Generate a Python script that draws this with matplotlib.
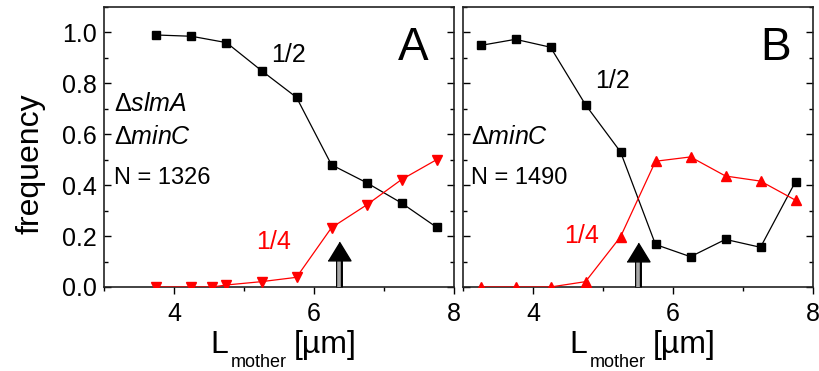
import numpy as np
import matplotlib
matplotlib.use("Agg")
import matplotlib.pyplot as plt
from matplotlib.ticker import MultipleLocator, FormatStrFormatter

plt.rcParams['font.family'] = ['Liberation Sans', 'DejaVu Sans']
plt.rcParams['mathtext.fontset'] = 'custom'
plt.rcParams['mathtext.rm'] = 'Liberation Sans'
plt.rcParams['mathtext.it'] = 'Liberation Sans:italic'
plt.rcParams['mathtext.default'] = 'regular'

# panel A: delta slmA delta minC
a_half_x = [3.75, 4.25, 4.75, 5.25, 5.75, 6.25, 6.75, 7.25, 7.75]
a_half_y = [0.99, 0.985, 0.96, 0.85, 0.745, 0.48, 0.41, 0.33, 0.235]
a_quarter_x = [3.75, 4.25, 4.55, 4.75, 5.25, 5.75, 6.25, 6.75, 7.25, 7.75]
a_quarter_y = [0.0, 0.0, 0.0, 0.008, 0.021, 0.038, 0.233, 0.322, 0.422, 0.50]
a_arrow = (6.35, 0.178)

# panel B: delta minC
b_half_x = [3.25, 3.75, 4.25, 4.75, 5.25, 5.75, 6.25, 6.75, 7.25, 7.75]
b_half_y = [0.949, 0.973, 0.942, 0.716, 0.531, 0.167, 0.119, 0.187, 0.156, 0.414]
b_quarter_x = [3.25, 3.75, 4.25, 4.75, 5.25, 5.75, 6.25, 6.75, 7.25, 7.75]
b_quarter_y = [0.0, 0.0, 0.0, 0.021, 0.197, 0.494, 0.511, 0.436, 0.416, 0.341]
b_arrow = (5.5, 0.172)

fig = plt.figure(figsize=(8.19, 3.71), dpi=100)
axA = fig.add_axes([104/819, 84/371, 350/819, 280/371])
axB = fig.add_axes([463/819, 84/371, 350/819, 280/371])

head = [(-1.1, -0.9), (1.1, -0.9), (0, 0.9)]


def draw_arrow(ax, x, tip):
    # shaft: black outline with grey core, head: black triangle
    base = tip - 18/254.5
    ax.plot([x, x], [0, base], color='black', lw=5.0, solid_capstyle='butt', zorder=4, clip_on=False)
    ax.plot([x, x], [0, base], color='#a8a8a8', lw=2.6, solid_capstyle='butt', zorder=5, clip_on=False)
    ax.plot([x], [(tip + base)/2], marker=head, ms=16.5, color='black', zorder=6, clip_on=False)


def style(ax, show_y):
    ax.set_xlim(3, 8)
    ax.set_ylim(0, 1.1)
    ax.xaxis.set_major_locator(MultipleLocator(2))
    ax.xaxis.set_minor_locator(MultipleLocator(1))
    ax.yaxis.set_major_locator(MultipleLocator(0.2))
    ax.yaxis.set_minor_locator(MultipleLocator(0.1))
    ax.yaxis.set_major_formatter(FormatStrFormatter('%.1f'))
    ax.tick_params(axis='x', which='major', direction='out', length=5, width=1, pad=6, labelsize=18)
    ax.tick_params(axis='x', which='minor', direction='out', length=3, width=1)
    ax.tick_params(axis='y', which='major', direction='in', length=5, width=1, pad=5,
                   labelsize=18, right=True, labelleft=show_y)
    ax.tick_params(axis='y', which='minor', direction='in', length=3, width=1, right=True)
    for s in ax.spines.values():
        s.set_linewidth(1.2)
        s.set_color('#222222')
    l = ax.annotate('L', xy=(0.303, 0.0485), xycoords=('axes fraction', 'figure fraction'),
                    ha='left', va='baseline', fontsize=23)
    m = ax.annotate('mother', xy=(1, 0), xycoords=l, xytext=(2, -5), textcoords='offset points',
                    ha='left', va='baseline', fontsize=13)
    ax.annotate('[µm]', xy=(1, 0), xycoords=(m, l), xytext=(5, 0), textcoords='offset points',
                ha='left', va='bottom', fontsize=23)


# panel A
axA.plot(a_half_x, a_half_y, color='black', lw=0.9, marker='s', ms=6, zorder=3)
axA.plot(a_quarter_x, a_quarter_y, color='red', lw=0.9, marker='v', ms=7.5, zorder=3)
draw_arrow(axA, *a_arrow)
style(axA, True)
axA.text(7.42, 0.94, 'A', fontsize=33, ha='center', va='center')
axA.text(5.63, 0.91, '1/2', fontsize=18, ha='center', va='center')
axA.text(5.42, 0.176, '1/4', fontsize=18, ha='center', va='center', color='red')
axA.text(3.14, 0.72, 'Δ$\\mathit{slmA}$', fontsize=18, ha='left', va='center')
axA.text(3.14, 0.59, 'Δ$\\mathit{minC}$', fontsize=18, ha='left', va='center')
axA.text(3.14, 0.43, 'N = 1326', fontsize=17, ha='left', va='center')

# panel B
axB.plot(b_half_x, b_half_y, color='black', lw=0.9, marker='s', ms=6, zorder=3)
axB.plot(b_quarter_x, b_quarter_y, color='red', lw=0.9, marker='^', ms=7.5, zorder=3)
draw_arrow(axB, *b_arrow)
style(axB, False)
axB.text(7.46, 0.94, 'B', fontsize=33, ha='center', va='center')
axB.text(5.13, 0.81, '1/2', fontsize=18, ha='center', va='center')
axB.text(4.70, 0.20, '1/4', fontsize=18, ha='center', va='center', color='red')
axB.text(3.12, 0.59, 'Δ$\\mathit{minC}$', fontsize=18, ha='left', va='center')
axB.text(3.12, 0.43, 'N = 1490', fontsize=17, ha='left', va='center')

fig.text(31/819, 0.558, 'frequency', rotation=90, fontsize=23, ha='center', va='center')

fig.savefig('out.png', dpi=100)
